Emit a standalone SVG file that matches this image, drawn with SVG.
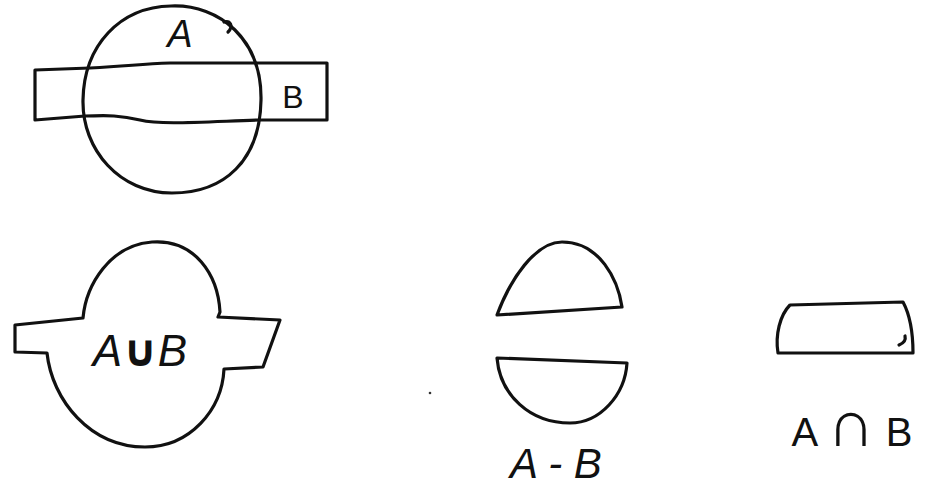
<svg xmlns="http://www.w3.org/2000/svg" width="926" height="487" viewBox="0 0 926 487">
<style>
.s{fill:none;stroke:#111;stroke-width:3.2;stroke-linejoin:round;stroke-linecap:round}
.t{font-family:"Liberation Sans","DejaVu Sans",sans-serif;fill:#111}
</style>
<rect width="926" height="487" fill="#fff"/>
<g id="top-figure">
<path class="s" d="M171 6 C220 4 262 40 261 100 C260 160 225 193 172 193 C120 193 82 150 83 100 C84 45 120 7 171 6 Z"/>
<path class="s" d="M224 22 C230 20 234 26 228 32"/>
<path class="s" d="M35 70 L90 68 C130 66 140 64 170 63 L327 63 L327 120 L260 120 C200 122 160 125 140 120 C115 114 100 116 85 116 L35 120 Z"/>
<text class="t" x="180" y="47" font-size="38" font-style="italic" text-anchor="middle">A</text>
<text class="t" x="293" y="108" font-size="32" text-anchor="middle">B</text>
</g>
<g id="union">
<path class="s" d="M15 325 L83 318 C86 285 110 245 152 242 C195 239 218 275 220 312 L218 317 L280 320 L263 367 L224 369 C222 410 190 447 145 447 C90 447 52 400 47 353 L15 352 Z"/>
<text class="t" x="140" y="366" font-size="44" font-style="italic" text-anchor="middle">A<tspan font-weight="bold" font-style="normal">∪</tspan>B</text>
</g>
<g id="difference">
<path class="s" d="M497 315 C510 280 535 242 562 242 C600 242 618 280 622 307 Z"/>
<path class="s" d="M497 358 L627 363 C625 395 600 423 570 423 C530 423 500 395 497 358 Z"/>
<text class="t" x="556" y="478" font-size="42" font-style="italic" text-anchor="middle">A - B</text>
</g>
<g id="intersection">
<path class="s" d="M790 305 L903 302 C910 315 913 335 913 353 L778 353 C775 335 780 315 790 305 Z"/>
<path class="s" d="M899 345 C904 343 906 340 905 336"/>
<text class="t" x="852" y="446" font-size="40" text-anchor="middle">A <tspan font-size="66">∩</tspan> B</text>
</g>
<circle cx="430" cy="393" r="1.3" fill="#333"/>
</svg>
